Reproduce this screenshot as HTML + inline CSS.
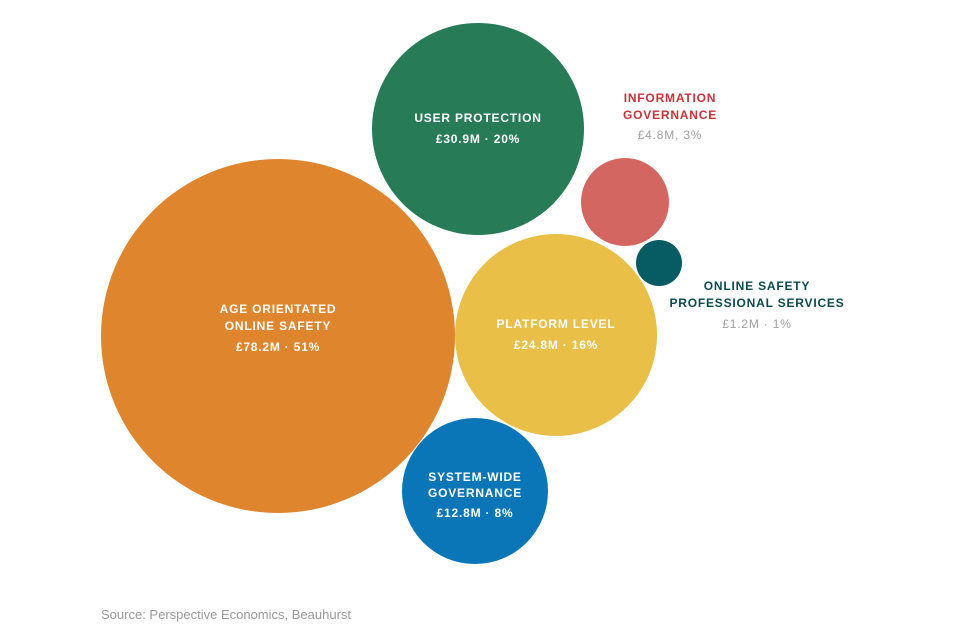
<!DOCTYPE html>
<html><head><meta charset="utf-8"><style>
html,body{margin:0;padding:0;background:#fff}
svg{display:block}
text{font-family:"Liberation Sans",sans-serif;text-anchor:middle;letter-spacing:0.8px}
.w{fill:#fff;font-weight:bold;font-size:12px}
</style></head><body>
<svg width="960" height="640" viewBox="0 0 960 640">
<circle cx="278" cy="336" r="177" fill="#df852d"/>
<circle cx="478" cy="129" r="106" fill="#277c57"/>
<circle cx="556" cy="335" r="101" fill="#e9bf47"/>
<circle cx="475" cy="491" r="73" fill="#0a76b8"/>
<circle cx="625" cy="202" r="44" fill="#d36661"/>
<circle cx="659" cy="263" r="23" fill="#075b63"/>
<text class="w" x="478" y="122">USER PROTECTION</text>
<text class="w" x="478" y="143">£30.9M · 20%</text>
<text class="w" x="278" y="313">AGE ORIENTATED</text>
<text class="w" x="278" y="330">ONLINE SAFETY</text>
<text class="w" x="278" y="351">£78.2M · 51%</text>
<text class="w" x="556" y="328">PLATFORM LEVEL</text>
<text class="w" x="556" y="349">£24.8M · 16%</text>
<text class="w" x="475" y="481">SYSTEM-WIDE</text>
<text class="w" x="475" y="497">GOVERNANCE</text>
<text class="w" x="475" y="517">£12.8M · 8%</text>
<text x="670" y="102" font-size="12" font-weight="bold" fill="#c8323a">INFORMATION</text>
<text x="670" y="119" font-size="12" font-weight="bold" fill="#c8323a">GOVERNANCE</text>
<text x="670" y="139" font-size="12" fill="#a0a0a0">£4.8M, 3%</text>
<text x="757" y="290" font-size="12" font-weight="bold" fill="#0b4a4e">ONLINE SAFETY</text>
<text x="757" y="307" font-size="12" font-weight="bold" fill="#0b4a4e">PROFESSIONAL SERVICES</text>
<text x="757" y="328" font-size="12" fill="#a0a0a0">£1.2M · 1%</text>
<text x="101" y="619" font-size="13" fill="#999" style="text-anchor:start;letter-spacing:0">Source: Perspective Economics, Beauhurst</text>
</svg>
</body></html>
